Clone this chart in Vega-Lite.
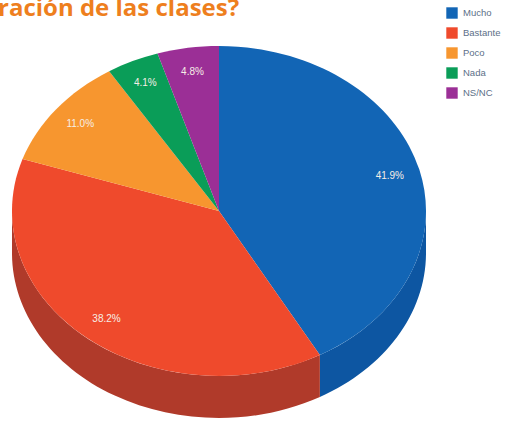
{
  "$schema": "https://vega.github.io/schema/vega-lite/v6.json",
  "width": 512,
  "height": 427,
  "padding": 0,
  "autosize": "none",
  "background": "white",
  "view": {"stroke": null},
  "title": {
    "text": "ración de las clases?",
    "anchor": "start",
    "frame": "group",
    "orient": "top",
    "baseline": "alphabetic",
    "offset": -40,
    "dx": -2,
    "font": "Open Sans",
    "fontSize": 24,
    "fontWeight": "bold",
    "color": "#ee7f1e"
  },
  "data": {
    "values": [
      {"respuesta": "Mucho", "pct": 41.9, "orden": 1},
      {"respuesta": "Bastante", "pct": 38.2, "orden": 2},
      {"respuesta": "Poco", "pct": 11.0, "orden": 3},
      {"respuesta": "Nada", "pct": 4.1, "orden": 4},
      {"respuesta": "NS/NC", "pct": 4.8, "orden": 5}
    ]
  },
  "transform": [
    {"window": [{"op": "sum", "field": "pct", "as": "cum"}], "sort": [{"field": "orden"}]},
    {"calculate": "(datum.cum - datum.pct) / 100 * 2 * PI", "as": "a0"},
    {"calculate": "datum.cum / 100 * 2 * PI", "as": "a1"},
    {"calculate": "(datum.a0 + datum.a1) / 2", "as": "mid"},
    {"calculate": "round(sin(datum.a0)*100000)/100000", "as": "x0"},
    {"calculate": "round(-0.797*cos(datum.a0)*100000)/100000", "as": "y0"},
    {"calculate": "round(sin(datum.a1)*100000)/100000", "as": "x1"},
    {"calculate": "round(-0.797*cos(datum.a1)*100000)/100000", "as": "y1"},
    {"calculate": "'M0,0L' + datum.x0 + ',' + datum.y0 + 'A1,0.797 0 0 1 ' + datum.x1 + ',' + datum.y1 + 'Z'", "as": "top"},
    {"calculate": "max(datum.a0, PI/2)", "as": "w0"},
    {"calculate": "min(datum.a1, 3*PI/2)", "as": "w1"},
    {"calculate": "round(sin(datum.w0)*100000)/100000", "as": "wx0"},
    {"calculate": "round(-0.797*cos(datum.w0)*100000)/100000", "as": "wy0"},
    {"calculate": "round(sin(datum.w1)*100000)/100000", "as": "wx1"},
    {"calculate": "round(-0.797*cos(datum.w1)*100000)/100000", "as": "wy1"},
    {"calculate": "'M' + datum.wx0 + ',' + datum.wy0 + 'A1,0.797 0 0 1 ' + datum.wx1 + ',' + datum.wy1 + 'L' + datum.wx1 + ',' + (round((datum.wy1+0.203)*100000)/100000) + 'A1,0.797 0 0 0 ' + datum.wx0 + ',' + (round((datum.wy0+0.203)*100000)/100000) + 'Z'", "as": "wall"},
    {"calculate": "219 + 176.5 * sin(datum.mid)", "as": "lx"},
    {"calculate": "211 - 140.7 * cos(datum.mid)", "as": "ly"},
    {"calculate": "format(datum.pct, '.1f') + '%'", "as": "etiqueta"}
  ],
  "layer": [
    {
      "transform": [{"filter": "datum.w0 < datum.w1"}],
      "mark": {"type": "point", "filled": true, "opacity": 1, "strokeWidth": 0},
      "encoding": {
        "x": {"datum": 219, "type": "quantitative", "scale": {"domain": [0, 512], "range": [0, 512]}, "axis": null},
        "y": {"datum": 211, "type": "quantitative", "scale": {"domain": [0, 427], "range": [0, 427]}, "axis": null},
        "size": {"value": 171396},
        "shape": {"field": "wall", "type": "nominal", "scale": null},
        "color": {
          "field": "respuesta",
          "type": "nominal",
          "legend": null,
          "scale": {"domain": ["Mucho", "Bastante", "Poco", "Nada", "NS/NC"], "range": ["#0d56a2", "#b03a2a", "#b86f20", "#0a6b38", "#6d2478"]}
        }
      }
    },
    {
      "mark": {"type": "point", "filled": true, "opacity": 1, "strokeWidth": 0},
      "encoding": {
        "x": {"datum": 219, "type": "quantitative", "scale": {"domain": [0, 512], "range": [0, 512]}, "axis": null},
        "y": {"datum": 211, "type": "quantitative", "scale": {"domain": [0, 427], "range": [0, 427]}, "axis": null},
        "size": {"value": 171396},
        "shape": {"field": "top", "type": "nominal", "scale": null},
        "color": {
          "field": "respuesta",
          "type": "nominal",
          "sort": null,
          "scale": {"domain": ["Mucho", "Bastante", "Poco", "Nada", "NS/NC"], "range": ["#1265b5", "#ef4a2c", "#f7962f", "#0a9d58", "#9b2f96"]},
          "legend": {
            "title": null,
            "orient": "none",
            "legendX": 446,
            "legendY": 7,
            "symbolType": "square",
            "symbolSize": 130,
            "symbolStrokeWidth": 0,
            "rowPadding": 8,
            "labelFont": "Liberation Sans",
            "labelFontSize": 9.5,
            "labelColor": "#5c6f88",
            "labelOffset": 5,
            "symbolOpacity": 1
          }
        }
      }
    },
    {
      "mark": {"type": "text", "color": "#f6eee6", "font": "Liberation Sans", "fontSize": 10},
      "encoding": {
        "x": {"field": "lx", "type": "quantitative", "scale": {"domain": [0, 512], "range": [0, 512]}, "axis": null},
        "y": {"field": "ly", "type": "quantitative", "scale": {"domain": [0, 427], "range": [0, 427]}, "axis": null},
        "text": {"field": "etiqueta", "type": "nominal"}
      }
    }
  ],
  "resolve": {"scale": {"color": "independent"}}
}
